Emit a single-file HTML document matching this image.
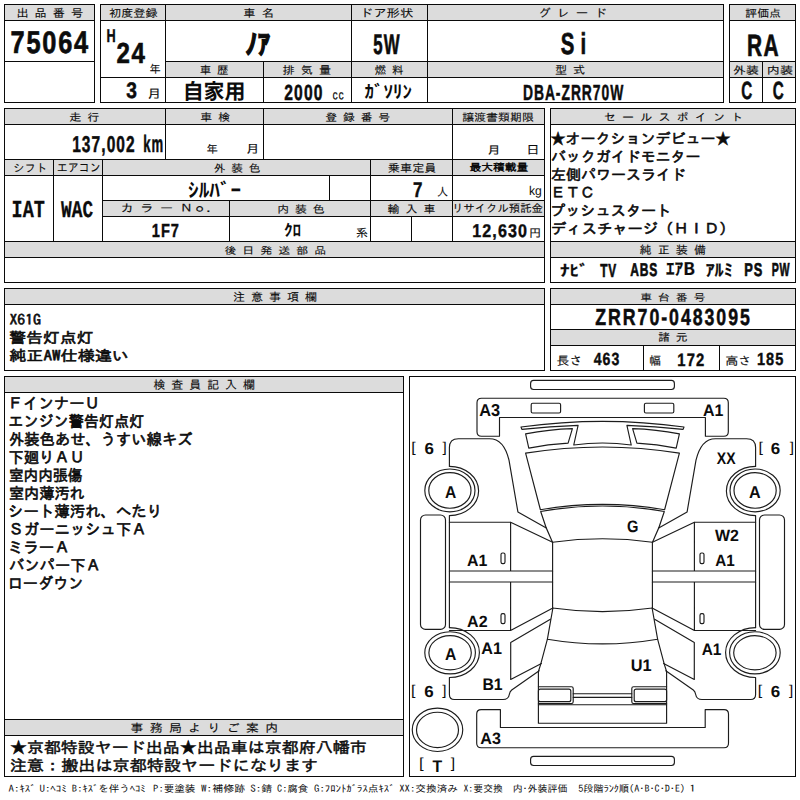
<!DOCTYPE html>
<html lang="ja">
<head>
<meta charset="utf-8">
<title>出品票 75064</title>
<style>
html,body{margin:0;padding:0;background:#fff;}
body{width:800px;height:800px;overflow:hidden;}
svg{display:block;}
svg text{fill:#0c0c0c;white-space:pre;text-rendering:geometricPrecision;}
</style>
</head>
<body>
<svg width="800" height="800" viewBox="0 0 800 800" shape-rendering="auto">
<rect x="0" y="0" width="800" height="800" fill="#ffffff"/>
<rect x="5" y="5" width="89" height="15" fill="#dcdcdc"/>
<rect x="4" y="4" width="91" height="1" fill="#0a0a0a"/>
<rect x="4" y="102" width="91" height="1" fill="#0a0a0a"/>
<rect x="4" y="4" width="1" height="99" fill="#0a0a0a"/>
<rect x="94" y="4" width="1" height="99" fill="#0a0a0a"/>
<rect x="4" y="20" width="91" height="1" fill="#0a0a0a"/>
<rect x="4" y="61" width="91" height="1" fill="#0a0a0a"/>
<rect x="101" y="5" width="622" height="15" fill="#dcdcdc"/>
<rect x="166" y="62" width="557" height="15" fill="#dcdcdc"/>
<rect x="100" y="4" width="624" height="1" fill="#0a0a0a"/>
<rect x="100" y="102" width="624" height="1" fill="#0a0a0a"/>
<rect x="100" y="4" width="1" height="99" fill="#0a0a0a"/>
<rect x="723" y="4" width="1" height="99" fill="#0a0a0a"/>
<rect x="100" y="20" width="624" height="1" fill="#0a0a0a"/>
<rect x="165" y="61" width="559" height="1" fill="#0a0a0a"/>
<rect x="100" y="77" width="624" height="1" fill="#0a0a0a"/>
<rect x="165" y="4" width="1" height="99" fill="#0a0a0a"/>
<rect x="263" y="61" width="1" height="42" fill="#0a0a0a"/>
<rect x="351" y="4" width="1" height="99" fill="#0a0a0a"/>
<rect x="427" y="4" width="1" height="99" fill="#0a0a0a"/>
<rect x="730" y="5" width="65" height="15" fill="#dcdcdc"/>
<rect x="730" y="62" width="65" height="15" fill="#dcdcdc"/>
<rect x="729" y="4" width="67" height="1" fill="#0a0a0a"/>
<rect x="729" y="102" width="67" height="1" fill="#0a0a0a"/>
<rect x="729" y="4" width="1" height="99" fill="#0a0a0a"/>
<rect x="795" y="4" width="1" height="99" fill="#0a0a0a"/>
<rect x="729" y="20" width="67" height="1" fill="#0a0a0a"/>
<rect x="729" y="61" width="67" height="1" fill="#0a0a0a"/>
<rect x="729" y="77" width="67" height="1" fill="#0a0a0a"/>
<rect x="762" y="61" width="1" height="42" fill="#0a0a0a"/>
<rect x="5" y="109" width="539" height="15" fill="#dcdcdc"/>
<rect x="5" y="160" width="539" height="15" fill="#dcdcdc"/>
<rect x="103" y="201" width="441" height="15" fill="#dcdcdc"/>
<rect x="5" y="242" width="539" height="15" fill="#dcdcdc"/>
<rect x="4" y="108" width="541" height="1" fill="#0a0a0a"/>
<rect x="4" y="282" width="541" height="1" fill="#0a0a0a"/>
<rect x="4" y="108" width="1" height="175" fill="#0a0a0a"/>
<rect x="544" y="108" width="1" height="175" fill="#0a0a0a"/>
<rect x="4" y="124" width="541" height="1" fill="#0a0a0a"/>
<rect x="4" y="159" width="541" height="1" fill="#0a0a0a"/>
<rect x="4" y="175" width="541" height="1" fill="#0a0a0a"/>
<rect x="102" y="200" width="443" height="1" fill="#0a0a0a"/>
<rect x="102" y="216" width="443" height="1" fill="#0a0a0a"/>
<rect x="4" y="241" width="541" height="1" fill="#0a0a0a"/>
<rect x="4" y="257" width="541" height="1" fill="#0a0a0a"/>
<rect x="165" y="108" width="1" height="52" fill="#0a0a0a"/>
<rect x="263" y="108" width="1" height="52" fill="#0a0a0a"/>
<rect x="452" y="108" width="1" height="134" fill="#0a0a0a"/>
<rect x="53" y="159" width="1" height="83" fill="#0a0a0a"/>
<rect x="102" y="159" width="1" height="83" fill="#0a0a0a"/>
<rect x="370" y="159" width="1" height="83" fill="#0a0a0a"/>
<rect x="329" y="175" width="1" height="26" fill="#0a0a0a"/>
<rect x="229" y="200" width="1" height="42" fill="#0a0a0a"/>
<rect x="411" y="216" width="1" height="26" fill="#0a0a0a"/>
<rect x="551" y="109" width="244" height="15" fill="#dcdcdc"/>
<rect x="551" y="242" width="244" height="15" fill="#dcdcdc"/>
<rect x="550" y="108" width="246" height="1" fill="#0a0a0a"/>
<rect x="550" y="282" width="246" height="1" fill="#0a0a0a"/>
<rect x="550" y="108" width="1" height="175" fill="#0a0a0a"/>
<rect x="795" y="108" width="1" height="175" fill="#0a0a0a"/>
<rect x="550" y="124" width="246" height="1" fill="#0a0a0a"/>
<rect x="550" y="241" width="246" height="1" fill="#0a0a0a"/>
<rect x="550" y="257" width="246" height="1" fill="#0a0a0a"/>
<rect x="5" y="289" width="539" height="15" fill="#dcdcdc"/>
<rect x="4" y="288" width="541" height="1" fill="#0a0a0a"/>
<rect x="4" y="370" width="541" height="1" fill="#0a0a0a"/>
<rect x="4" y="288" width="1" height="83" fill="#0a0a0a"/>
<rect x="544" y="288" width="1" height="83" fill="#0a0a0a"/>
<rect x="4" y="304" width="541" height="1" fill="#0a0a0a"/>
<rect x="551" y="289" width="244" height="15" fill="#dcdcdc"/>
<rect x="551" y="330" width="244" height="15" fill="#dcdcdc"/>
<rect x="550" y="288" width="246" height="1" fill="#0a0a0a"/>
<rect x="550" y="370" width="246" height="1" fill="#0a0a0a"/>
<rect x="550" y="288" width="1" height="83" fill="#0a0a0a"/>
<rect x="795" y="288" width="1" height="83" fill="#0a0a0a"/>
<rect x="550" y="304" width="246" height="1" fill="#0a0a0a"/>
<rect x="550" y="329" width="246" height="1" fill="#0a0a0a"/>
<rect x="550" y="345" width="246" height="1" fill="#0a0a0a"/>
<rect x="643" y="345" width="1" height="26" fill="#0a0a0a"/>
<rect x="719" y="345" width="1" height="26" fill="#0a0a0a"/>
<rect x="5" y="377" width="398" height="15" fill="#dcdcdc"/>
<rect x="5" y="720" width="398" height="15" fill="#dcdcdc"/>
<rect x="4" y="376" width="400" height="1" fill="#0a0a0a"/>
<rect x="4" y="776" width="400" height="1" fill="#0a0a0a"/>
<rect x="4" y="376" width="1" height="401" fill="#0a0a0a"/>
<rect x="403" y="376" width="1" height="401" fill="#0a0a0a"/>
<rect x="4" y="392" width="400" height="1" fill="#0a0a0a"/>
<rect x="4" y="719" width="400" height="1" fill="#0a0a0a"/>
<rect x="4" y="735" width="400" height="1" fill="#0a0a0a"/>
<rect x="409" y="376" width="387" height="1" fill="#0a0a0a"/>
<rect x="409" y="776" width="387" height="1" fill="#0a0a0a"/>
<rect x="409" y="376" width="1" height="401" fill="#0a0a0a"/>
<rect x="795" y="376" width="1" height="401" fill="#0a0a0a"/>
<text font-family="'IPAGothic', 'Noto Sans CJK JP', sans-serif" font-weight="normal" font-size="11.348" stroke="#0c0c0c" stroke-width="0.113" transform="translate(16.42 16.85) scale(1.0706 1)">出 品 番 号</text>
<text font-family="'IPAGothic', 'Noto Sans CJK JP', sans-serif" font-weight="normal" font-size="10.753" stroke="#0c0c0c" stroke-width="0.108" transform="translate(108.97 16.69) scale(1.1330 1)">初度登録</text>
<text font-family="'IPAGothic', 'Noto Sans CJK JP', sans-serif" font-weight="normal" font-size="10.870" stroke="#0c0c0c" stroke-width="0.109" transform="translate(243.33 16.68) scale(1.1262 1)">車 名</text>
<text font-family="'IPAGothic', 'Noto Sans CJK JP', sans-serif" font-weight="normal" font-size="11.111" stroke="#0c0c0c" stroke-width="0.111" transform="translate(359.77 16.66) scale(1.2083 1)">ドア形状</text>
<text font-family="'IPAGothic', 'Noto Sans CJK JP', sans-serif" font-weight="normal" font-size="11.236" stroke="#0c0c0c" stroke-width="0.112" transform="translate(538.31 17.09) scale(1.1125 1)">グ レ ー ド</text>
<text font-family="'IPAGothic', 'Noto Sans CJK JP', sans-serif" font-weight="normal" font-size="10.538" stroke="#0c0c0c" stroke-width="0.105" transform="translate(745.37 16.60) scale(1.1257 1)">評価点</text>
<text font-family="'IPAGothic', 'Noto Sans CJK JP', sans-serif" font-weight="normal" font-size="10.989" stroke="#0c0c0c" stroke-width="0.110" transform="translate(199.76 74.18) scale(1.0509 1)">車 歴</text>
<text font-family="'IPAGothic', 'Noto Sans CJK JP', sans-serif" font-weight="normal" font-size="10.753" stroke="#0c0c0c" stroke-width="0.108" transform="translate(282.58 73.98) scale(1.1293 1)">排 気 量</text>
<text font-family="'IPAGothic', 'Noto Sans CJK JP', sans-serif" font-weight="normal" font-size="10.870" stroke="#0c0c0c" stroke-width="0.109" transform="translate(374.71 74.08) scale(1.0557 1)">燃 料</text>
<text font-family="'IPAGothic', 'Noto Sans CJK JP', sans-serif" font-weight="normal" font-size="11.111" stroke="#0c0c0c" stroke-width="0.111" transform="translate(554.94 74.28) scale(1.0875 1)">型 式</text>
<text font-family="'IPAGothic', 'Noto Sans CJK JP', sans-serif" font-weight="normal" font-size="10.645" stroke="#0c0c0c" stroke-width="0.106" transform="translate(733.12 74.00) scale(1.2099 1)">外装</text>
<text font-family="'IPAGothic', 'Noto Sans CJK JP', sans-serif" font-weight="normal" font-size="10.645" stroke="#0c0c0c" stroke-width="0.106" transform="translate(766.83 74.00) scale(1.2288 1)">内装</text>
<text font-family="'Liberation Sans', 'Noto Sans CJK JP', sans-serif" font-weight="bold" font-size="31.148" letter-spacing="2.180" stroke="#0c0c0c" stroke-width="0.685" transform="translate(10.56 52.55) scale(0.8146 1)">75064</text>
<text font-family="'Liberation Sans', 'Noto Sans CJK JP', sans-serif" font-weight="bold" font-size="18.698" letter-spacing="1.309" stroke="#0c0c0c" stroke-width="0.411" transform="translate(106.58 41.99) scale(0.6793 1)">H</text>
<text font-family="'Liberation Sans', 'Noto Sans CJK JP', sans-serif" font-weight="bold" font-size="29.086" letter-spacing="2.036" stroke="#0c0c0c" stroke-width="0.640" transform="translate(116.44 63.43) scale(0.8273 1)">24</text>
<text font-family="'IPAGothic', 'Noto Sans CJK JP', sans-serif" font-weight="normal" font-size="11.264" stroke="#0c0c0c" stroke-width="0.113" transform="translate(149.39 72.91) scale(0.9864 1)">年</text>
<text font-family="'Liberation Sans', 'Noto Sans CJK JP', sans-serif" font-weight="bold" font-size="22.541" letter-spacing="1.578" stroke="#0c0c0c" stroke-width="0.496" transform="translate(126.33 98.28) scale(0.8499 1)">3</text>
<text font-family="'IPAGothic', 'Noto Sans CJK JP', sans-serif" font-weight="normal" font-size="11.782" stroke="#0c0c0c" stroke-width="0.118" transform="translate(146.98 97.75) scale(1.2301 1)">月</text>
<text font-family="'Liberation Sans', 'Noto Sans CJK JP', sans-serif" font-weight="bold" font-size="27.746" stroke="#0c0c0c" stroke-width="1.249" transform="translate(245.16 53.83) scale(0.8983 1)">ﾉｱ</text>
<text font-family="'Liberation Sans', 'Noto Sans CJK JP', sans-serif" font-weight="bold" font-size="21.237" transform="translate(182.67 99.26) scale(0.9859 1)">自家用</text>
<text font-family="'Liberation Sans', 'Noto Sans CJK JP', sans-serif" font-weight="bold" font-size="21.858" letter-spacing="1.530" stroke="#0c0c0c" stroke-width="0.481" transform="translate(284.30 99.54) scale(0.7158 1)">2000</text>
<text font-family="'IPAGothic', 'Noto Sans CJK JP', sans-serif" font-weight="normal" font-size="14.340" stroke="#0c0c0c" stroke-width="0.143" transform="translate(332.34 100.36) scale(0.8306 1)">cc</text>
<text font-family="'Liberation Sans', 'Noto Sans CJK JP', sans-serif" font-weight="bold" font-size="28.255" letter-spacing="1.978" stroke="#0c0c0c" stroke-width="0.622" transform="translate(373.28 53.81) scale(0.5958 1)">5W</text>
<text font-family="'Liberation Sans', 'Noto Sans CJK JP', sans-serif" font-weight="bold" font-size="17.826" transform="translate(364.62 98.33) scale(1.0624 1)">ｶﾞｿﾘﾝ</text>
<text font-family="'Liberation Sans', 'Noto Sans CJK JP', sans-serif" font-weight="bold" font-size="30.184" letter-spacing="9.055" stroke="#0c0c0c" stroke-width="0.664" transform="translate(560.82 53.77) scale(0.6744 1)">Si</text>
<text font-family="'Liberation Sans', 'Noto Sans CJK JP', sans-serif" font-weight="bold" font-size="21.858" letter-spacing="1.530" stroke="#0c0c0c" stroke-width="0.481" transform="translate(522.92 99.54) scale(0.6346 1)">DBA-ZRR70W</text>
<text font-family="'Liberation Sans', 'Noto Sans CJK JP', sans-serif" font-weight="bold" font-size="30.886" letter-spacing="2.162" stroke="#0c0c0c" stroke-width="0.680" transform="translate(746.88 56.36) scale(0.6768 1)">RA</text>
<text font-family="'Liberation Sans', 'Noto Sans CJK JP', sans-serif" font-weight="bold" font-size="24.863" letter-spacing="1.740" stroke="#0c0c0c" stroke-width="0.547" transform="translate(741.16 98.68) scale(0.6133 1)">C</text>
<text font-family="'Liberation Sans', 'Noto Sans CJK JP', sans-serif" font-weight="bold" font-size="24.863" letter-spacing="1.740" stroke="#0c0c0c" stroke-width="0.547" transform="translate(772.86 98.68) scale(0.6133 1)">C</text>
<text font-family="'IPAGothic', 'Noto Sans CJK JP', sans-serif" font-weight="normal" font-size="10.549" stroke="#0c0c0c" stroke-width="0.105" transform="translate(69.15 121.10) scale(1.1493 1)">走 行</text>
<text font-family="'IPAGothic', 'Noto Sans CJK JP', sans-serif" font-weight="normal" font-size="10.435" stroke="#0c0c0c" stroke-width="0.104" transform="translate(200.35 121.11) scale(1.1413 1)">車 検</text>
<text font-family="'IPAGothic', 'Noto Sans CJK JP', sans-serif" font-weight="normal" font-size="10.435" stroke="#0c0c0c" stroke-width="0.104" transform="translate(325.29 121.22) scale(1.1316 1)">登 録 番 号</text>
<text font-family="'IPAGothic', 'Noto Sans CJK JP', sans-serif" font-weight="normal" font-size="10.532" stroke="#0c0c0c" stroke-width="0.105" transform="translate(462.28 120.50) scale(1.1336 1)">譲渡書類期限</text>
<text font-family="'IPAGothic', 'Noto Sans CJK JP', sans-serif" font-weight="normal" font-size="11.084" stroke="#0c0c0c" stroke-width="0.111" transform="translate(13.21 171.61) scale(1.0249 1)">シフト</text>
<text font-family="'IPAGothic', 'Noto Sans CJK JP', sans-serif" font-weight="normal" font-size="12.105" stroke="#0c0c0c" stroke-width="0.121" transform="translate(56.76 171.58) scale(0.9067 1)">エアコン</text>
<text font-family="'IPAGothic', 'Noto Sans CJK JP', sans-serif" font-weight="normal" font-size="10.538" stroke="#0c0c0c" stroke-width="0.105" transform="translate(213.67 171.70) scale(1.1120 1)">外 装 色</text>
<text font-family="'IPAGothic', 'Noto Sans CJK JP', sans-serif" font-weight="normal" font-size="11.183" stroke="#0c0c0c" stroke-width="0.112" transform="translate(387.85 172.25) scale(1.0896 1)">乗車定員</text>
<text font-family="'IPAGothic', 'Noto Sans CJK JP', sans-serif" font-weight="bold" font-size="10.313" transform="translate(469.53 171.27) scale(1.1431 1)">最大積載量</text>
<text font-family="'IPAGothic', 'Noto Sans CJK JP', sans-serif" font-weight="normal" font-size="10.833" stroke="#0c0c0c" stroke-width="0.108" transform="translate(120.38 212.40) scale(1.2201 1)">カ ラ ー Ｎｏ．</text>
<text font-family="'IPAGothic', 'Noto Sans CJK JP', sans-serif" font-weight="normal" font-size="10.538" stroke="#0c0c0c" stroke-width="0.105" transform="translate(277.15 212.80) scale(1.1294 1)">内 装 色</text>
<text font-family="'IPAGothic', 'Noto Sans CJK JP', sans-serif" font-weight="normal" font-size="10.769" stroke="#0c0c0c" stroke-width="0.108" transform="translate(387.58 212.89) scale(1.1114 1)">輸 入 車</text>
<text font-family="'IPAGothic', 'Noto Sans CJK JP', sans-serif" font-weight="normal" font-size="10.652" stroke="#0c0c0c" stroke-width="0.107" transform="translate(451.90 211.99) scale(1.0691 1)">リサイクル預託金</text>
<text font-family="'IPAGothic', 'Noto Sans CJK JP', sans-serif" font-weight="normal" font-size="9.894" stroke="#0c0c0c" stroke-width="0.099" transform="translate(224.40 253.96) scale(1.2122 1)">後 日 発 送 部 品</text>
<text font-family="'IPAGothic', 'Noto Sans CJK JP', sans-serif" font-weight="normal" font-size="10.674" stroke="#0c0c0c" stroke-width="0.107" transform="translate(603.87 121.12) scale(1.1369 1)">セ ー ル ス ポ イ ン ト</text>
<text font-family="'IPAGothic', 'Noto Sans CJK JP', sans-serif" font-weight="normal" font-size="11.290" stroke="#0c0c0c" stroke-width="0.113" transform="translate(639.58 253.94) scale(1.0704 1)">純 正 装 備</text>
<text font-family="'Liberation Sans', 'Noto Sans CJK JP', sans-serif" font-weight="bold" font-size="22.951" letter-spacing="1.607" stroke="#0c0c0c" stroke-width="0.505" transform="translate(72.14 151.72) scale(0.6755 1)">137,002</text>
<text font-family="'Liberation Sans', 'Noto Sans CJK JP', sans-serif" font-weight="bold" font-size="23.803" letter-spacing="1.666" stroke="#0c0c0c" stroke-width="0.524" transform="translate(143.36 151.94) scale(0.5510 1)">km</text>
<text font-family="'IPAGothic', 'Noto Sans CJK JP', sans-serif" font-weight="normal" font-size="10.989" stroke="#0c0c0c" stroke-width="0.110" transform="translate(206.58 153.48) scale(1.0313 1)">年</text>
<text font-family="'IPAGothic', 'Noto Sans CJK JP', sans-serif" font-weight="normal" font-size="11.494" stroke="#0c0c0c" stroke-width="0.115" transform="translate(245.64 153.32) scale(1.2104 1)">月</text>
<text font-family="'IPAGothic', 'Noto Sans CJK JP', sans-serif" font-weight="normal" font-size="11.034" stroke="#0c0c0c" stroke-width="0.110" transform="translate(486.94 153.56) scale(1.2609 1)">月</text>
<text font-family="'IPAGothic', 'Noto Sans CJK JP', sans-serif" font-weight="normal" font-size="11.852" stroke="#0c0c0c" stroke-width="0.119" transform="translate(526.36 153.85) scale(1.1293 1)">日</text>
<text font-family="'Liberation Mono', 'Noto Sans CJK JP', monospace" font-weight="bold" font-size="24.340" stroke="#0c0c0c" stroke-width="0.292" transform="translate(11.57 216.75) scale(0.7598 1)">IAT</text>
<text font-family="'Liberation Mono', 'Noto Sans CJK JP', monospace" font-weight="bold" font-size="23.988" stroke="#0c0c0c" stroke-width="0.288" transform="translate(61.11 216.52) scale(0.7443 1)">WAC</text>
<text font-family="'Liberation Sans', 'Noto Sans CJK JP', sans-serif" font-weight="bold" font-size="19.341" transform="translate(188.06 197.03) scale(1.0979 1)">ｼﾙﾊﾞｰ</text>
<text font-family="'Liberation Sans', 'Noto Sans CJK JP', sans-serif" font-weight="bold" font-size="21.191" letter-spacing="1.483" stroke="#0c0c0c" stroke-width="0.466" transform="translate(413.01 196.57) scale(0.7990 1)">7</text>
<text font-family="'IPAGothic', 'Noto Sans CJK JP', sans-serif" font-weight="normal" font-size="11.494" stroke="#0c0c0c" stroke-width="0.115" transform="translate(436.89 196.05) scale(0.9667 1)">人</text>
<text font-family="'Liberation Sans', sans-serif" font-weight="normal" font-size="12.660" transform="translate(528.97 194.74) scale(0.9580 1)">kg</text>
<text font-family="'Liberation Sans', 'Noto Sans CJK JP', sans-serif" font-weight="bold" font-size="18.852" letter-spacing="1.320" stroke="#0c0c0c" stroke-width="0.415" transform="translate(151.79 237.10) scale(0.7739 1)">1F7</text>
<text font-family="'Liberation Sans', 'Noto Sans CJK JP', sans-serif" font-weight="bold" font-size="16.292" transform="translate(283.88 235.96) scale(1.0608 1)">ｸﾛ</text>
<text font-family="'IPAGothic', 'Noto Sans CJK JP', sans-serif" font-weight="normal" font-size="11.591" stroke="#0c0c0c" stroke-width="0.116" transform="translate(355.68 236.63) scale(1.0611 1)">系</text>
<text font-family="'Liberation Sans', 'Noto Sans CJK JP', sans-serif" font-weight="bold" font-size="18.443" letter-spacing="1.291" stroke="#0c0c0c" stroke-width="0.406" transform="translate(472.21 236.81) scale(0.8716 1)">12,630</text>
<text font-family="'IPAGothic', 'Noto Sans CJK JP', sans-serif" font-weight="normal" font-size="11.446" stroke="#0c0c0c" stroke-width="0.114" transform="translate(529.00 236.76) scale(1.0666 1)">円</text>
<text font-family="'Noto Sans CJK JP', sans-serif" font-weight="bold" font-size="15.499" stroke="#0c0c0c" stroke-width="0.186" transform="translate(559.94 275.82) scale(1.2377 1)">ﾅﾋﾞ</text>
<text font-family="'Liberation Sans', 'Noto Sans CJK JP', sans-serif" font-weight="bold" font-size="18.776" letter-spacing="1.314" stroke="#0c0c0c" stroke-width="0.657" transform="translate(600.29 276.67) scale(0.6310 1)">TV</text>
<text font-family="'Liberation Sans', 'Noto Sans CJK JP', sans-serif" font-weight="bold" font-size="18.523" letter-spacing="1.297" stroke="#0c0c0c" stroke-width="0.648" transform="translate(630.27 276.49) scale(0.6490 1)">ABS</text>
<text font-family="'Noto Sans CJK JP', sans-serif" font-weight="bold" font-size="17.397" stroke="#0c0c0c" stroke-width="0.209" transform="translate(665.99 275.48) scale(0.9897 1)">ｴｱB</text>
<text font-family="'Noto Sans CJK JP', sans-serif" font-weight="bold" font-size="16.589" stroke="#0c0c0c" stroke-width="0.199" transform="translate(705.50 275.54) scale(1.0999 1)">ｱﾙﾐ</text>
<text font-family="'Liberation Sans', 'Noto Sans CJK JP', sans-serif" font-weight="bold" font-size="18.523" letter-spacing="1.297" stroke="#0c0c0c" stroke-width="0.648" transform="translate(744.26 276.49) scale(0.6919 1)">PS</text>
<text font-family="'Liberation Sans', 'Noto Sans CJK JP', sans-serif" font-weight="bold" font-size="18.776" letter-spacing="1.314" stroke="#0c0c0c" stroke-width="0.657" transform="translate(771.75 276.48) scale(0.5672 1)">PW</text>
<text font-family="'IPAGothic', 'Noto Sans CJK JP', sans-serif" font-weight="normal" font-size="11.277" stroke="#0c0c0c" stroke-width="0.113" transform="translate(232.94 300.93) scale(1.0672 1)">注 意 事 項 欄</text>
<text font-family="'IPAGothic', 'Noto Sans CJK JP', sans-serif" font-weight="normal" font-size="10.000" stroke="#0c0c0c" stroke-width="0.100" transform="translate(640.25 300.65) scale(1.1852 1)">車 台 番 号</text>
<text font-family="'Liberation Sans', 'Noto Sans CJK JP', sans-serif" font-weight="bold" font-size="23.224" letter-spacing="2.555" stroke="#0c0c0c" stroke-width="0.511" transform="translate(595.24 325.11) scale(0.7641 1)">ZRR70-0483095</text>
<text font-family="'IPAGothic', 'Noto Sans CJK JP', sans-serif" font-weight="normal" font-size="10.652" stroke="#0c0c0c" stroke-width="0.107" transform="translate(658.17 341.10) scale(1.1024 1)">諸 元</text>
<text font-family="'IPAGothic', 'Noto Sans CJK JP', sans-serif" font-weight="normal" font-size="12.045" stroke="#0c0c0c" stroke-width="0.120" transform="translate(556.62 364.90) scale(1.0634 1)">長さ</text>
<text font-family="'Liberation Sans', 'Noto Sans CJK JP', sans-serif" font-weight="bold" font-size="17.623" letter-spacing="1.234" stroke="#0c0c0c" stroke-width="0.388" transform="translate(593.76 365.43) scale(0.8030 1)">463</text>
<text font-family="'IPAGothic', 'Noto Sans CJK JP', sans-serif" font-weight="normal" font-size="11.648" stroke="#0c0c0c" stroke-width="0.116" transform="translate(649.16 364.93) scale(1.0000 1)">幅</text>
<text font-family="'Liberation Sans', 'Noto Sans CJK JP', sans-serif" font-weight="bold" font-size="17.867" letter-spacing="1.251" stroke="#0c0c0c" stroke-width="0.393" transform="translate(677.37 365.60) scale(0.8294 1)">172</text>
<text font-family="'IPAGothic', 'Noto Sans CJK JP', sans-serif" font-weight="normal" font-size="11.522" stroke="#0c0c0c" stroke-width="0.115" transform="translate(725.15 364.94) scale(1.1392 1)">高さ</text>
<text font-family="'Liberation Sans', 'Noto Sans CJK JP', sans-serif" font-weight="bold" font-size="17.623" letter-spacing="1.234" stroke="#0c0c0c" stroke-width="0.388" transform="translate(756.99 365.43) scale(0.8230 1)">185</text>
<text font-family="'IPAGothic', 'Noto Sans CJK JP', sans-serif" font-weight="normal" font-size="11.739" stroke="#0c0c0c" stroke-width="0.117" transform="translate(153.42 389.40) scale(1.0198 1)">検 査 員 記 入 欄</text>
<text font-family="'IPAGothic', 'Noto Sans CJK JP', sans-serif" font-weight="normal" font-size="11.398" stroke="#0c0c0c" stroke-width="0.114" transform="translate(130.55 732.03) scale(1.1276 1)">事 務 局 よ り ご 案 内</text>
<text font-family="'Liberation Sans', sans-serif" font-weight="bold" font-size="17.254" transform="translate(479.17 415.83) scale(0.9485 1)">A3</text>
<text font-family="'Liberation Sans', sans-serif" font-weight="bold" font-size="16.571" transform="translate(702.98 415.80) scale(0.9648 1)">A1</text>
<text font-family="'Liberation Sans', sans-serif" font-weight="bold" font-size="16.714" transform="translate(716.80 463.60) scale(0.8386 1)">XX</text>
<text font-family="'Liberation Sans', sans-serif" font-weight="bold" font-size="17.000" transform="translate(445.09 497.50) scale(0.9170 1)">A</text>
<text font-family="'Liberation Sans', sans-serif" font-weight="bold" font-size="17.143" transform="translate(748.88 497.80) scale(0.9436 1)">A</text>
<text font-family="'Liberation Sans', sans-serif" font-weight="bold" font-size="17.143" transform="translate(445.09 659.70) scale(0.9179 1)">A</text>
<text font-family="'Liberation Sans', sans-serif" font-weight="bold" font-size="16.549" transform="translate(626.91 532.33) scale(0.8886 1)">G</text>
<text font-family="'Liberation Sans', sans-serif" font-weight="bold" font-size="16.286" transform="translate(715.00 541.40) scale(0.9816 1)">W2</text>
<text font-family="'Liberation Sans', sans-serif" font-weight="bold" font-size="16.286" transform="translate(715.29 566.40) scale(0.9369 1)">A1</text>
<text font-family="'Liberation Sans', sans-serif" font-weight="bold" font-size="16.286" transform="translate(467.08 566.40) scale(0.9767 1)">A1</text>
<text font-family="'Liberation Sans', sans-serif" font-weight="bold" font-size="16.286" transform="translate(467.08 626.80) scale(0.9847 1)">A2</text>
<text font-family="'Liberation Sans', sans-serif" font-weight="bold" font-size="16.571" transform="translate(481.28 654.40) scale(0.9746 1)">A1</text>
<text font-family="'Liberation Sans', sans-serif" font-weight="bold" font-size="16.571" transform="translate(701.69 654.60) scale(0.9305 1)">A1</text>
<text font-family="'Liberation Sans', sans-serif" font-weight="bold" font-size="16.667" transform="translate(482.45 690.40) scale(0.9462 1)">B1</text>
<text font-family="'Liberation Sans', sans-serif" font-weight="bold" font-size="16.786" transform="translate(630.77 671.08) scale(0.9744 1)">U1</text>
<text font-family="'Liberation Sans', sans-serif" font-weight="bold" font-size="16.408" transform="translate(480.28 744.24) scale(0.9799 1)">A3</text>
<text font-family="'Liberation Sans', sans-serif" font-weight="normal" font-size="14.255" transform="translate(411.28 451.81) scale(1.1224 1)">[</text>
<text font-family="'Liberation Sans', sans-serif" font-weight="bold" font-size="16.056" transform="translate(424.49 454.44) scale(1.0550 1)">6</text>
<text font-family="'Liberation Sans', sans-serif" font-weight="normal" font-size="14.255" transform="translate(442.60 451.81) scale(1.0689 1)">]</text>
<text font-family="'Liberation Sans', sans-serif" font-weight="normal" font-size="14.255" transform="translate(758.38 451.61) scale(1.1224 1)">[</text>
<text font-family="'Liberation Sans', sans-serif" font-weight="bold" font-size="16.056" transform="translate(770.69 454.24) scale(1.0550 1)">6</text>
<text font-family="'Liberation Sans', sans-serif" font-weight="normal" font-size="14.255" transform="translate(789.70 451.61) scale(1.0689 1)">]</text>
<text font-family="'Liberation Sans', sans-serif" font-weight="normal" font-size="14.255" transform="translate(410.98 694.81) scale(1.1224 1)">[</text>
<text font-family="'Liberation Sans', sans-serif" font-weight="bold" font-size="16.056" transform="translate(424.29 697.44) scale(1.0550 1)">6</text>
<text font-family="'Liberation Sans', sans-serif" font-weight="normal" font-size="14.255" transform="translate(442.30 694.81) scale(1.0689 1)">]</text>
<text font-family="'Liberation Sans', sans-serif" font-weight="normal" font-size="14.255" transform="translate(757.78 694.81) scale(1.1224 1)">[</text>
<text font-family="'Liberation Sans', sans-serif" font-weight="bold" font-size="16.056" transform="translate(770.69 697.44) scale(1.0550 1)">6</text>
<text font-family="'Liberation Sans', sans-serif" font-weight="normal" font-size="14.255" transform="translate(789.10 694.81) scale(1.0689 1)">]</text>
<text font-family="'Liberation Sans', sans-serif" font-weight="normal" font-size="14.628" transform="translate(419.08 768.43) scale(1.1451 1)">[</text>
<text font-family="'Liberation Sans', sans-serif" font-weight="bold" font-size="16.786" transform="translate(432.59 771.50) scale(0.9433 1)">T</text>
<text font-family="'Liberation Sans', sans-serif" font-weight="normal" font-size="14.628" transform="translate(450.70 768.43) scale(1.0743 1)">]</text>
<text font-family="'IPAGothic', 'Noto Sans CJK JP', sans-serif" font-weight="normal" font-size="14.583" stroke="#0c0c0c" stroke-width="0.583" transform="translate(550.55 144.14) scale(1.0280 1)">★オークションデビュー★</text>
<text font-family="'IPAGothic', 'Noto Sans CJK JP', sans-serif" font-weight="normal" font-size="14.583" stroke="#0c0c0c" stroke-width="0.583" transform="translate(550.90 162.17) scale(1.0261 1)">バックガイドモニター</text>
<text font-family="'IPAGothic', 'Noto Sans CJK JP', sans-serif" font-weight="normal" font-size="14.583" stroke="#0c0c0c" stroke-width="0.583" transform="translate(551.05 180.20) scale(1.0286 1)">左側パワースライド</text>
<text font-family="'IPAGothic', 'Noto Sans CJK JP', sans-serif" font-weight="normal" font-size="14.583" stroke="#0c0c0c" stroke-width="0.583" transform="translate(550.77 198.23) scale(1.0076 1)">ＥＴＣ</text>
<text font-family="'IPAGothic', 'Noto Sans CJK JP', sans-serif" font-weight="normal" font-size="14.583" stroke="#0c0c0c" stroke-width="0.583" transform="translate(550.03 216.26) scale(1.0406 1)">プッシュスタート</text>
<text font-family="'IPAGothic', 'Noto Sans CJK JP', sans-serif" font-weight="normal" font-size="14.583" stroke="#0c0c0c" stroke-width="0.583" transform="translate(551.08 234.29) scale(1.0489 1)">ディスチャージ（ＨＩＤ）</text>
<text font-family="'IPAGothic', 'Noto Sans CJK JP', sans-serif" font-weight="normal" font-size="14.583" stroke="#0c0c0c" stroke-width="0.583" transform="translate(9.44 324.54) scale(1.0790 1)">X61G</text>
<text font-family="'IPAGothic', 'Noto Sans CJK JP', sans-serif" font-weight="normal" font-size="14.583" stroke="#0c0c0c" stroke-width="0.583" transform="translate(9.26 342.54) scale(1.1526 1)">警告灯点灯</text>
<text font-family="'IPAGothic', 'Noto Sans CJK JP', sans-serif" font-weight="normal" font-size="14.583" stroke="#0c0c0c" stroke-width="0.583" transform="translate(9.26 360.54) scale(1.1730 1)">純正AW仕様違い</text>
<text font-family="'IPAGothic', 'Noto Sans CJK JP', sans-serif" font-weight="normal" font-size="15.625" stroke="#0c0c0c" stroke-width="0.625" transform="translate(7.72 408.74) scale(0.9835 1)">ＦインナーＵ</text>
<text font-family="'IPAGothic', 'Noto Sans CJK JP', sans-serif" font-weight="normal" font-size="15.625" stroke="#0c0c0c" stroke-width="0.625" transform="translate(8.29 426.74) scale(0.9665 1)">エンジン警告灯点灯</text>
<text font-family="'IPAGothic', 'Noto Sans CJK JP', sans-serif" font-weight="normal" font-size="15.625" stroke="#0c0c0c" stroke-width="0.625" transform="translate(9.04 444.74) scale(0.9793 1)">外装色あせ、うすい線キズ</text>
<text font-family="'IPAGothic', 'Noto Sans CJK JP', sans-serif" font-weight="normal" font-size="15.625" stroke="#0c0c0c" stroke-width="0.625" transform="translate(8.58 462.74) scale(0.9768 1)">下廻りＡＵ</text>
<text font-family="'IPAGothic', 'Noto Sans CJK JP', sans-serif" font-weight="normal" font-size="15.625" stroke="#0c0c0c" stroke-width="0.625" transform="translate(8.91 480.74) scale(0.9412 1)">室内内張傷</text>
<text font-family="'IPAGothic', 'Noto Sans CJK JP', sans-serif" font-weight="normal" font-size="15.625" stroke="#0c0c0c" stroke-width="0.625" transform="translate(8.89 498.74) scale(0.9717 1)">室内薄汚れ</text>
<text font-family="'IPAGothic', 'Noto Sans CJK JP', sans-serif" font-weight="normal" font-size="15.625" stroke="#0c0c0c" stroke-width="0.625" transform="translate(8.11 516.74) scale(0.9868 1)">シート薄汚れ、へたり</text>
<text font-family="'IPAGothic', 'Noto Sans CJK JP', sans-serif" font-weight="normal" font-size="15.625" stroke="#0c0c0c" stroke-width="0.625" transform="translate(8.48 534.74) scale(0.9836 1)">Ｓガーニッシュ下Ａ</text>
<text font-family="'IPAGothic', 'Noto Sans CJK JP', sans-serif" font-weight="normal" font-size="15.625" stroke="#0c0c0c" stroke-width="0.625" transform="translate(7.67 552.74) scale(0.9946 1)">ミラーＡ</text>
<text font-family="'IPAGothic', 'Noto Sans CJK JP', sans-serif" font-weight="normal" font-size="15.625" stroke="#0c0c0c" stroke-width="0.625" transform="translate(8.89 570.74) scale(0.9831 1)">バンパー下Ａ</text>
<text font-family="'IPAGothic', 'Noto Sans CJK JP', sans-serif" font-weight="normal" font-size="15.625" stroke="#0c0c0c" stroke-width="0.625" transform="translate(7.73 588.74) scale(0.9701 1)">ローダウン</text>
<text font-family="'IPAGothic', 'Noto Sans CJK JP', sans-serif" font-weight="normal" font-size="15.263" stroke="#0c0c0c" stroke-width="0.458" transform="translate(9.90 753.05) scale(1.1141 1)">★京都特設ヤード出品★出品車は京都府八幡市</text>
<text font-family="'IPAGothic', 'Noto Sans CJK JP', sans-serif" font-weight="normal" font-size="15.263" stroke="#0c0c0c" stroke-width="0.458" transform="translate(9.73 771.05) scale(1.1237 1)">注意：搬出は京都特設ヤードになります</text>
<text fill="#333" font-family="'IPAGothic', 'Noto Sans CJK JP', sans-serif" font-size="9.674" transform="translate(8.53 792.43) scale(1.1271 1)">A:ｷｽﾞ</text>
<text fill="#333" font-family="'IPAGothic', 'Noto Sans CJK JP', sans-serif" font-size="9.674" transform="translate(39.45 792.43) scale(1.1293 1)">U:ﾍｺﾐ</text>
<text fill="#333" font-family="'IPAGothic', 'Noto Sans CJK JP', sans-serif" font-size="9.674" transform="translate(71.87 792.43) scale(1.0909 1)">B:ｷｽﾞを伴うﾍｺﾐ</text>
<text fill="#333" font-family="'IPAGothic', 'Noto Sans CJK JP', sans-serif" font-size="9.674" transform="translate(153.11 792.43) scale(1.0962 1)">P:要塗装</text>
<text fill="#333" font-family="'IPAGothic', 'Noto Sans CJK JP', sans-serif" font-size="9.674" transform="translate(201.03 792.43) scale(1.1508 1)">W:補修跡</text>
<text fill="#333" font-family="'IPAGothic', 'Noto Sans CJK JP', sans-serif" font-size="9.674" transform="translate(250.31 792.43) scale(1.1441 1)">S:錆</text>
<text fill="#333" font-family="'IPAGothic', 'Noto Sans CJK JP', sans-serif" font-size="9.674" transform="translate(277.08 792.43) scale(1.0760 1)">C:腐食</text>
<text fill="#333" font-family="'IPAGothic', 'Noto Sans CJK JP', sans-serif" font-size="9.674" transform="translate(314.07 792.43) scale(1.1121 1)">G:ﾌﾛﾝﾄｶﾞﾗｽ点ｷｽﾞ</text>
<text fill="#333" font-family="'IPAGothic', 'Noto Sans CJK JP', sans-serif" font-size="9.674" transform="translate(399.18 792.43) scale(1.1082 1)">XX:交換済み</text>
<text fill="#333" font-family="'IPAGothic', 'Noto Sans CJK JP', sans-serif" font-size="9.674" transform="translate(463.45 792.43) scale(1.0192 1)">X:要交換</text>
<text fill="#333" font-family="'IPAGothic', 'Noto Sans CJK JP', sans-serif" font-size="9.674" transform="translate(512.65 792.43) scale(1.0308 1)">内･外装評価</text>
<text fill="#333" font-family="'IPAGothic', 'Noto Sans CJK JP', sans-serif" font-size="9.674" transform="translate(578.24 792.43) scale(1.0538 1)">5段階ﾗﾝｸ順(A･B･C･D･E)</text>
<text fill="#333" font-family="'IPAGothic', 'Noto Sans CJK JP', sans-serif" font-size="9.674" transform="translate(689.17 792.43) scale(1.3438 1)">1</text>
<g fill="none" stroke="#1c1c1c" stroke-width="1.15" stroke-linejoin="round" stroke-linecap="round"><rect x="530.6" y="380.4" width="143.8" height="9.1" rx="3" ry="3"/>
<rect x="530.6" y="756.3" width="143.8" height="9.2" rx="3" ry="3"/>
<path d="M481.5,398.2 H723.8 Q728.3,398.2 728.3,402.7 V431.7 Q728.3,436.2 723.8,436.2 H705.4 V417.5 H499.5 V436.2 H481.5 Q477.0,436.2 477.0,431.7 V402.7 Q477.0,398.2 481.5,398.2 Z"/>
<rect x="531.2" y="403.2" width="29.4" height="9.8" rx="1.5" ry="1.5"/>
<rect x="531.2" y="403.2" width="29.4" height="9.8" rx="1.5" ry="1.5" transform="matrix(-1 0 0 1 1205.0 0)"/>
<path d="M481.2,747.7 H724.0 Q728.5,747.7 728.5,743.2 V714.1 Q728.5,709.6 724.0,709.6 H705.2 V727.5 H500.4 V709.6 H481.2 Q476.7,709.6 476.7,714.1 V743.2 Q476.7,747.7 481.2,747.7 Z"/>
<path d="M521,427 Q602.5,415.7 684.0,427 L683.1,429.4 Q655.0,426.2 626.9,425.4 L631.25,445 Q602.5,441 573.75,445 L578.1,425.4 Q550,426.2 521.9,429.4 Z"/>
<path d="M525.6,433.9 Q549,429.3 572.4,428.6 L568.1,443.1 Q548,444.3 528.8,448.1 Z"/>
<path d="M525.6,433.9 Q549,429.3 572.4,428.6 L568.1,443.1 Q548,444.3 528.8,448.1 Z" transform="matrix(-1 0 0 1 1205.0 0)"/>
<path d="M525.6,453.1 Q602.5,440.9 679.4,453.1 L664.6,509.75 Q602.5,498.9 540.4,509.75 Z"/>
<path d="M540.7,511.5 Q602.5,500.5 664.3,511.5 Q659.5,528 652.5,542.25 Q602.5,535.3 552.5,542.25 Q545.5,528 540.7,511.5 Z"/>
<path d="M552.6,542.25 V608 Q602.5,615.2 652.4,608 V542.25"/>
<path d="M552.9,608 L547.4,639.2 Q602.5,648.6 657.6,639.2 L652.1,608"/>
<path d="M547.4,639.2 L540.6,664.6 L538.4,671.5 V704.7"/>
<path d="M547.4,639.2 L540.6,664.6 L538.4,671.5 V704.7" transform="matrix(-1 0 0 1 1205.0 0)"/>
<path d="M538.4,686.7 H571.4 Q573.2,686.7 573.2,688.5 V701.8 Q573.2,703.6 571.4,703.6 H538.4"/>
<path d="M538.4,686.7 H571.4 Q573.2,686.7 573.2,688.5 V701.8 Q573.2,703.6 571.4,703.6 H538.4" transform="matrix(-1 0 0 1 1205.0 0)"/>
<rect x="538.4" y="689.1" width="32.4" height="12.6" rx="2.0" ry="2.0"/>
<rect x="538.4" y="689.1" width="32.4" height="12.6" rx="2.0" ry="2.0" transform="matrix(-1 0 0 1 1205.0 0)"/>
<path d="M573.2,693.7 H631.8 M573.2,697.3 H631.8"/>
<path d="M538.4,704.7 H666.6 V723.2 H538.4 Z"/>
<path d="M449.4,466.3 V447.6 Q449.4,438.7 458.4,438.7 H489.5 C499.5,438.7 506,447.5 509,460.2 L517.9,511.9 L546.3,528.1"/>
<path d="M449.4,466.3 V447.6 Q449.4,438.7 458.4,438.7 H489.5 C499.5,438.7 506,447.5 509,460.2 L517.9,511.9 L546.3,528.1" transform="matrix(-1 0 0 1 1205.0 0)"/>
<path d="M449.4,466.3 A29.2,24.65 0 0 1 449.4,515.6 V627.6"/>
<path d="M449.4,466.3 A29.2,24.65 0 0 1 449.4,515.6 V627.6" transform="matrix(-1 0 0 1 1205.0 0)"/>
<path d="M449.4,522.2 H510.6 V571 M510.6,522.2 L552.6,542.25 M449.4,571 H552.6 M449.4,582 H552.6 M510.6,582 V630.5 M449.4,630.5 H510.6 L552.9,608"/>
<path d="M449.4,522.2 H510.6 V571 M510.6,522.2 L552.6,542.25 M449.4,571 H552.6 M449.4,582 H552.6 M510.6,582 V630.5 M449.4,630.5 H510.6 L552.9,608" transform="matrix(-1 0 0 1 1205.0 0)"/>
<rect x="501.0" y="553.0" width="4.0" height="10.6" rx="1.6" ry="1.6"/>
<rect x="501.0" y="553.0" width="4.0" height="10.6" rx="1.6" ry="1.6" transform="matrix(-1 0 0 1 1205.0 0)"/>
<rect x="501.0" y="613.6" width="4.0" height="10.0" rx="1.6" ry="1.6"/>
<rect x="501.0" y="613.6" width="4.0" height="10.0" rx="1.6" ry="1.6" transform="matrix(-1 0 0 1 1205.0 0)"/>
<rect x="420.5" y="515.0" width="25.0" height="114.4" rx="5" ry="5"/>
<rect x="420.5" y="515.0" width="25.0" height="114.4" rx="5" ry="5" transform="matrix(-1 0 0 1 1205.0 0)"/>
<path d="M449.4,627.6 A30,24.95 0 0 1 449.4,677.5 V694.5 Q449.4,699.5 454.4,699.5 H503 Q508.5,699.5 509.3,694.5 Q509.8,691.4 511.7,690 L539.2,670.8"/>
<path d="M449.4,627.6 A30,24.95 0 0 1 449.4,677.5 V694.5 Q449.4,699.5 454.4,699.5 H503 Q508.5,699.5 509.3,694.5 Q509.8,691.4 511.7,690 L539.2,670.8" transform="matrix(-1 0 0 1 1205.0 0)"/>
<path d="M550.4,619.2 L510.7,642.6 V679.5 L541.4,663.4"/>
<path d="M550.4,619.2 L510.7,642.6 V679.5 L541.4,663.4" transform="matrix(-1 0 0 1 1205.0 0)"/>
<ellipse cx="449.9" cy="490.4" rx="25.1" ry="21.4"/>
<ellipse cx="449.9" cy="490.4" rx="25.1" ry="21.4" transform="matrix(-1 0 0 1 1205.0 0)"/>
<ellipse cx="449.9" cy="490.4" rx="21.1" ry="17.8"/>
<ellipse cx="449.9" cy="490.4" rx="21.1" ry="17.8" transform="matrix(-1 0 0 1 1205.0 0)"/>
<ellipse cx="450.1" cy="652.8" rx="25.3" ry="21.1"/>
<ellipse cx="450.1" cy="652.8" rx="25.3" ry="21.1" transform="matrix(-1 0 0 1 1205.0 0)"/>
<ellipse cx="450.1" cy="652.7" rx="21.2" ry="17.15"/>
<ellipse cx="450.1" cy="652.7" rx="21.2" ry="17.15" transform="matrix(-1 0 0 1 1205.0 0)"/>
<ellipse cx="437.5" cy="729.8" rx="25.25" ry="21.7"/>
<ellipse cx="437.5" cy="729.9" rx="21.0" ry="17.65"/></g>
</svg>
</body>
</html>
